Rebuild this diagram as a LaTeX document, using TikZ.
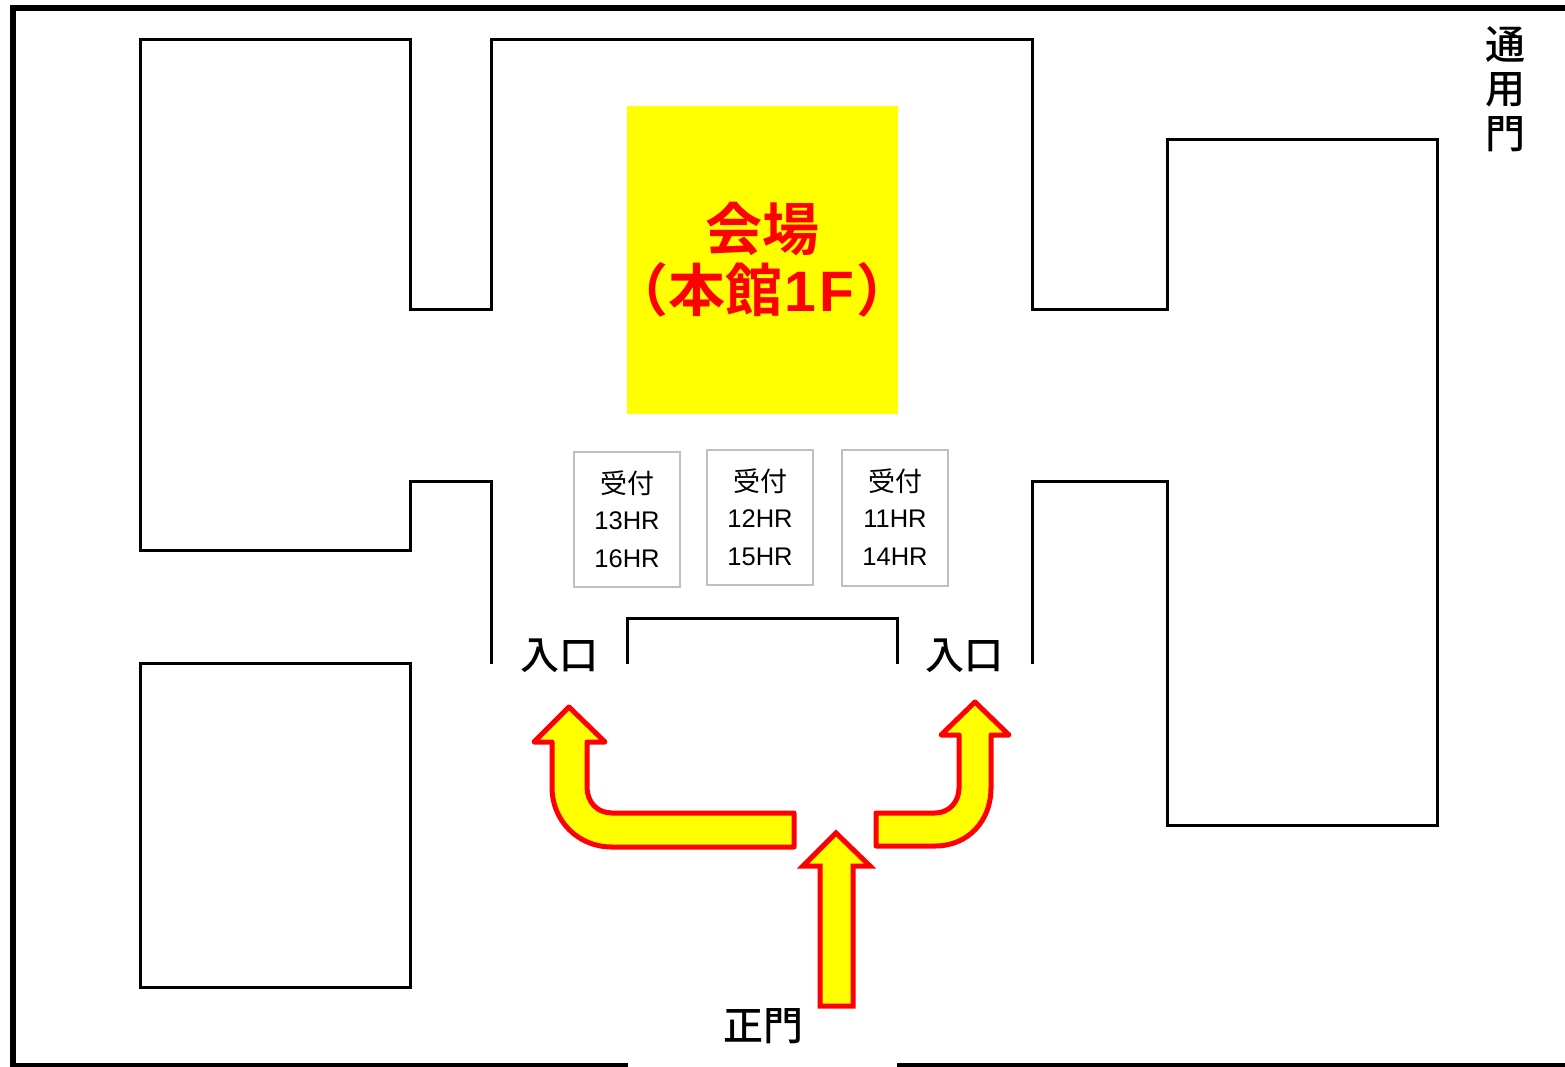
\documentclass[tikz,border=0pt]{standalone}
\usepackage{fontspec}
\setmainfont{Liberation Sans}
\newfontfamily\cjk{Noto Sans CJK JP}
\newfontfamily\cjkm{Noto Sans CJK JP Medium}
\newfontfamily\cjkb{Noto Sans CJK JP Bold}
\definecolor{pureyellow}{RGB}{255,255,0}
\definecolor{purered}{RGB}{255,0,0}
\tikzset{
  wall/.style={draw=black,line width=3pt,line cap=butt,miter limit=10},
  outer/.style={draw=black,line width=6pt},
  flow/.style={draw=purered,fill=pureyellow,line width=5pt,line join=round},
  desk/.style={draw=black!25,line width=2pt,fill=white},
  lbl/.style={inner sep=0pt,align=center,text=black},
  desklbl/.style={inner sep=0pt,align=center,text=black,font=\fontsize{25.5}{37.5}\selectfont},
  biglbl/.style={inner sep=0pt,align=center,text=purered,font=\fontsize{57}{61}\selectfont}
}
\begin{document}
\begin{tikzpicture}[x=1pt,y=-1pt]
\useasboundingbox (0,0) rectangle (1565,1066);
\fill[white] (0,0) rectangle (1565,1066);
% site boundary
\draw[outer] (1565,8) -- (13,8) -- (13,1066) -- (628,1066);
\draw[outer] (897,1066) -- (1565,1066);
% buildings
\draw[wall] (491.5,664) -- (491.5,481.5) -- (410.5,481.5) -- (410.5,550) -- (140.5,550) -- (140.5,39.5) -- (410.5,39.5) -- (410.5,309.5) -- (491.5,309.5) -- (491.5,39.5) -- (1032,39.5) -- (1032,309.5) -- (1167,309.5) -- (1167,139.5) -- (1437,139.5) -- (1437,825) -- (1167,825) -- (1167,481.5) -- (1032,481.5) -- (1032,664);
\draw[wall] (140.5,663.5) rectangle (410.5,987);
\draw[wall] (627.5,664) -- (627.5,618.5) -- (897,618.5) -- (897,664);
% venue
\fill[pureyellow] (627,106) rectangle (898,414);
\node[biglbl] (venue) at (762.5,260) {\cjkb 会場\\[0pt]\cjkb （本館{\normalfont\bfseries\kern2pt 1\kern3pt F\kern2pt}）};
% reception desks
\draw[desk] (574,452) rectangle (680,587);
\draw[desk] (707,450) rectangle (813,585);
\draw[desk] (842,450) rectangle (948,586);
\node[desklbl] (d13) at (627,519) {{\fontsize{27}{37.5}\selectfont\cjk 受付}\\[-1pt]13HR\\16HR};
\node[desklbl] (d12) at (760,517) {{\fontsize{27}{37.5}\selectfont\cjk 受付}\\[-1pt]12HR\\15HR};
\node[desklbl] (d11) at (895,517) {{\fontsize{27}{37.5}\selectfont\cjk 受付}\\[-1pt]11HR\\14HR};
% labels
\node[lbl,font=\fontsize{39}{39}\selectfont\cjkm] (in1) at (559,656) {入口};
\node[lbl,font=\fontsize{39}{39}\selectfont\cjkm] (in2) at (964,656) {入口};
\node[lbl,font=\fontsize{40}{40}\selectfont\cjkm] (gate) at (763,1026) {正門};
\node[lbl,font=\fontsize{40}{44.5}\selectfont\cjkm] (side) at (1505,89) {通\\用\\門};
% arrows
\draw[flow] (569,707) -- (605,742) -- (587,742) -- (587,787) .. controls (587,802) and (597,813) .. (612,813) -- (794,813) -- (794,847) -- (612,847) .. controls (578,847) and (552,821) .. (552,787) -- (552,742) -- (534,742) -- cycle;
\draw[flow] (975,702) -- (1009,735) -- (991,735) -- (991,788) .. controls (991,821) and (968,846) .. (935,846) -- (876,846) -- (876,813) -- (935,813) .. controls (949,813) and (959,802) .. (959,788) -- (959,735) -- (941,735) -- cycle;
\draw[flow,line join=miter] (836,833) -- (870,866) -- (853,866) -- (853,1006) -- (820,1006) -- (820,866) -- (803,866) -- cycle;
\end{tikzpicture}
\end{document}
